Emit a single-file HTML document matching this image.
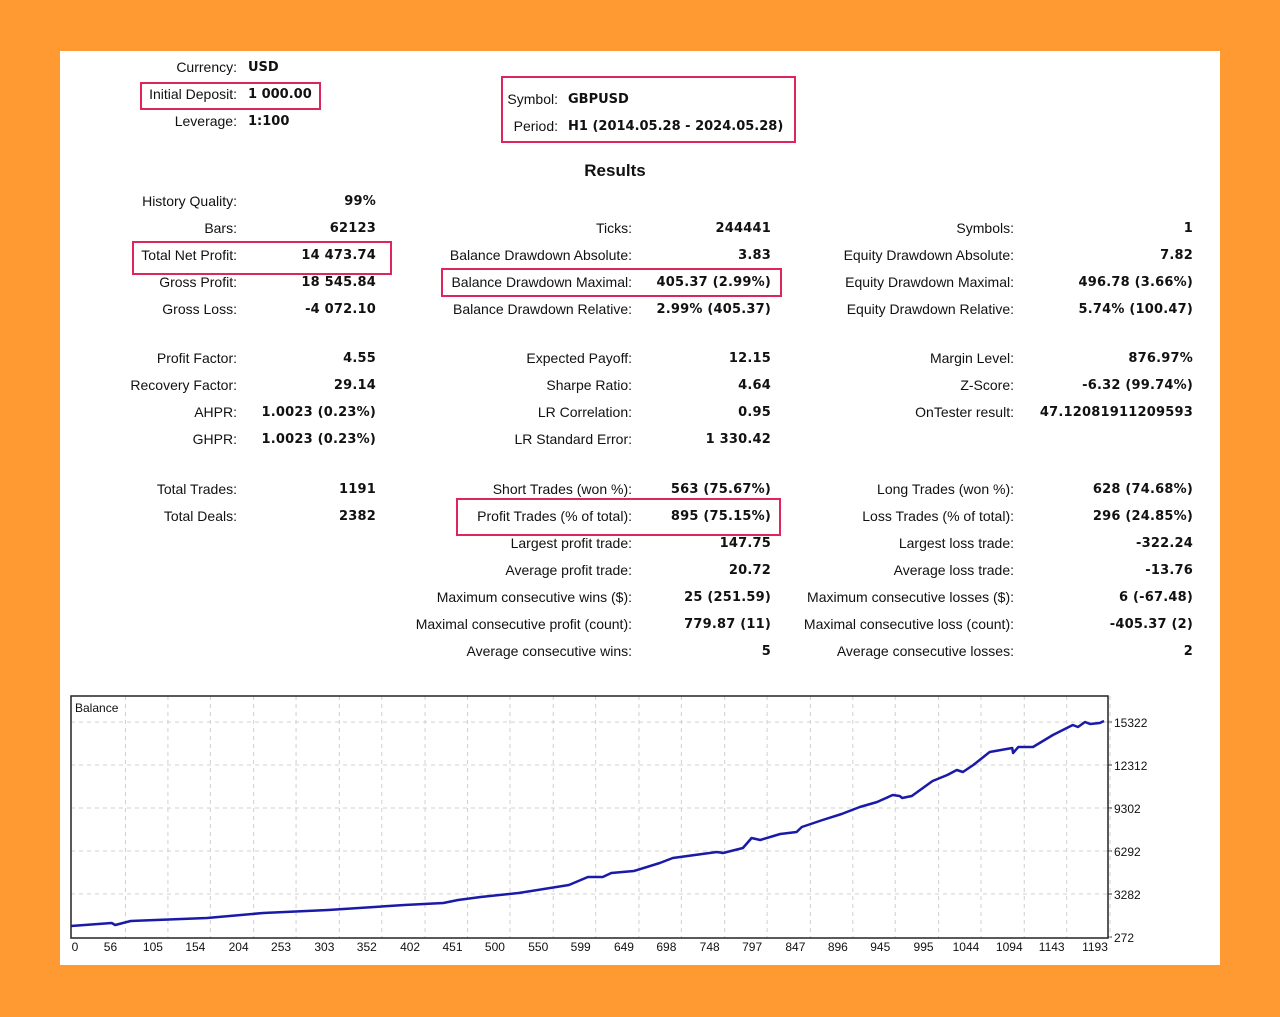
<!DOCTYPE html>
<html><head><meta charset="utf-8"><style>
body{margin:0;width:1280px;height:1017px;background:#FF9A33;position:relative;overflow:hidden;font-family:"Liberation Sans","DejaVu Sans",sans-serif;}
#card{position:absolute;left:60px;top:51px;width:1160px;height:914px;background:#fff;}
.t{position:absolute;font-size:14px;color:#111;line-height:18px;white-space:nowrap;}
.l{text-align:right;}
.v{font-family:"DejaVu Sans",sans-serif;font-weight:bold;font-size:13px;text-align:right;letter-spacing:0.2px;margin-top:1px;}
.vl{font-family:"DejaVu Sans",sans-serif;font-weight:bold;font-size:13px;margin-top:1px;}
.box{position:absolute;border:2px solid #E0245E;box-sizing:border-box;}
</style></head><body>
<div id="card"></div>
<div id="txt"></div>
<div class="box" style="left:140px;top:82px;width:181px;height:28px"></div>
<div class="box" style="left:501px;top:76px;width:295px;height:67px"></div>
<div class="box" style="left:132px;top:241px;width:260px;height:34px"></div>
<div class="box" style="left:441px;top:268px;width:341px;height:29px"></div>
<div class="box" style="left:456px;top:498px;width:325px;height:38px"></div>
<div class="t" style="left:0;width:1230px;top:162px;text-align:center;font-weight:bold;font-size:17px">Results</div>
<svg id="chart" width="1280" height="1017" style="position:absolute;left:0;top:0"></svg>
<script>
const trades=[0,47,51,69,98,157,222,297,385,430,447,473,517,575,597,614,624,650,680,695,746,753,776,786,796,819,838,844,868,890,911,931,949,957,960,971,995,1012,1023,1030,1042,1061,1087,1088,1094,1111,1134,1157,1163,1171,1177,1188,1193];
const balance=[1042,1252,1112,1392,1462,1602,1952,2162,2512,2652,2862,3072,3352,3912,4472,4472,4752,4892,5452,5802,6222,6152,6502,7202,7062,7482,7622,7972,8462,8882,9372,9722,10212,10142,10002,10142,11192,11612,11962,11822,12312,13222,13502,13152,13572,13572,14412,15112,14972,15322,15182,15252,15392];
const xTicks=[0,56,105,154,204,253,303,352,402,451,500,550,599,649,698,748,797,847,896,945,995,1044,1094,1143,1193];
const yTicks=[272,3282,6292,9302,12312,15322];

const rows=[
 [237,248,67,"Currency:","USD",1],[237,248,94,"Initial Deposit:","1 000.00",1],[237,248,121,"Leverage:","1:100",1],
 [558,568,99,"Symbol:","GBPUSD",1],[558,568,126,"Period:","H1 (2014.05.28 - 2024.05.28)",1],
 [237,376,201,"History Quality:","99%"],[237,376,228,"Bars:","62123"],[237,376,255,"Total Net Profit:","14 473.74"],[237,376,282,"Gross Profit:","18 545.84"],[237,376,309,"Gross Loss:","-4 072.10"],
 [237,376,358,"Profit Factor:","4.55"],[237,376,385,"Recovery Factor:","29.14"],[237,376,412,"AHPR:","1.0023 (0.23%)"],[237,376,439,"GHPR:","1.0023 (0.23%)"],
 [237,376,489,"Total Trades:","1191"],[237,376,516,"Total Deals:","2382"],
 [632,771,228,"Ticks:","244441"],[632,771,255,"Balance Drawdown Absolute:","3.83"],[632,771,282,"Balance Drawdown Maximal:","405.37 (2.99%)"],[632,771,309,"Balance Drawdown Relative:","2.99% (405.37)"],
 [632,771,358,"Expected Payoff:","12.15"],[632,771,385,"Sharpe Ratio:","4.64"],[632,771,412,"LR Correlation:","0.95"],[632,771,439,"LR Standard Error:","1 330.42"],
 [632,771,489,"Short Trades (won %):","563 (75.67%)"],[632,771,516,"Profit Trades (% of total):","895 (75.15%)"],[632,771,543,"Largest profit trade:","147.75"],[632,771,570,"Average profit trade:","20.72"],[632,771,597,"Maximum consecutive wins ($):","25 (251.59)"],[632,771,624,"Maximal consecutive profit (count):","779.87 (11)"],[632,771,651,"Average consecutive wins:","5"],
 [1014,1193,228,"Symbols:","1"],[1014,1193,255,"Equity Drawdown Absolute:","7.82"],[1014,1193,282,"Equity Drawdown Maximal:","496.78 (3.66%)"],[1014,1193,309,"Equity Drawdown Relative:","5.74% (100.47)"],
 [1014,1193,358,"Margin Level:","876.97%"],[1014,1193,385,"Z-Score:","-6.32 (99.74%)"],[1014,1193,412,"OnTester result:","47.12081911209593"],
 [1014,1193,489,"Long Trades (won %):","628 (74.68%)"],[1014,1193,516,"Loss Trades (% of total):","296 (24.85%)"],[1014,1193,543,"Largest loss trade:","-322.24"],[1014,1193,570,"Average loss trade:","-13.76"],[1014,1193,597,"Maximum consecutive losses ($):","6 (-67.48)"],[1014,1193,624,"Maximal consecutive loss (count):","-405.37 (2)"],[1014,1193,651,"Average consecutive losses:","2"]
];
const txt=document.getElementById('txt');
rows.forEach(r=>{
 const a=document.createElement('div');a.className='t l';
 a.style.right=(1280-r[0])+'px';a.style.top=(r[2]-9)+'px';a.textContent=r[3];
 
 
 txt.appendChild(a);
 const b=document.createElement('div');
 if(r[5]){b.className='t vl';b.style.left=r[1]+'px';}else{b.className='t v';b.style.right=(1280-r[1])+'px';}
 b.style.top=(r[2]-9)+'px';b.textContent=r[4];
 
 
 txt.appendChild(b);
});

const svg=document.getElementById('chart');const NS='http://www.w3.org/2000/svg';
const L=71,R=1108,T=696,B=938;
const xs=t=>71+t*(1104-71)/1193;
const ys=v=>937-(v-272)*43/3010;
function mk(tag,at){const e=document.createElementNS(NS,tag);for(const k in at)e.setAttribute(k,at[k]);svg.appendChild(e);return e;}
yTicks.forEach((v,i)=>{
 if(i>0){const g=mk('line',{x1:L,x2:R,y1:ys(v),y2:ys(v),stroke:'#d0d0d0','stroke-dasharray':'4,4'});
 
 }
 const t=mk('text',{x:1114,y:ys(v)+5,'font-size':'12','font-family':'Liberation Sans, sans-serif',fill:'#111'});t.textContent=v;
 
 
 const tk=mk('line',{x1:R,x2:R+4,y1:ys(v),y2:ys(v),stroke:'#333'});
 
 
});
xTicks.forEach((v,i)=>{
 const x=i==0?L:xs(v)+6;
 if(i>0){const g=mk('line',{x1:x,x2:x,y1:T,y2:B,stroke:'#d0d0d0','stroke-dasharray':'4,4'});
 
 }
 const t=mk('text',{x:i==0?75:x-15,y:951,'font-size':'12','font-family':'Liberation Sans, sans-serif',fill:'#111','text-anchor':'middle'});t.textContent=v;
 
 
});
const fr=mk('rect',{x:L,y:T,width:R-L,height:B-T,fill:'none',stroke:'#222','stroke-width':1.5});


const tl=mk('text',{x:75,y:712,'font-size':'12','font-family':'Liberation Sans, sans-serif',fill:'#111'});tl.textContent='Balance';


const pts=trades.map((t,i)=>xs(t).toFixed(1)+','+ys(balance[i]).toFixed(1)).join(' ');
const ln=mk('polyline',{points:pts,fill:'none',stroke:'#1a1aa8','stroke-width':2.5,'stroke-linejoin':'round'});


</script>
</body></html>
